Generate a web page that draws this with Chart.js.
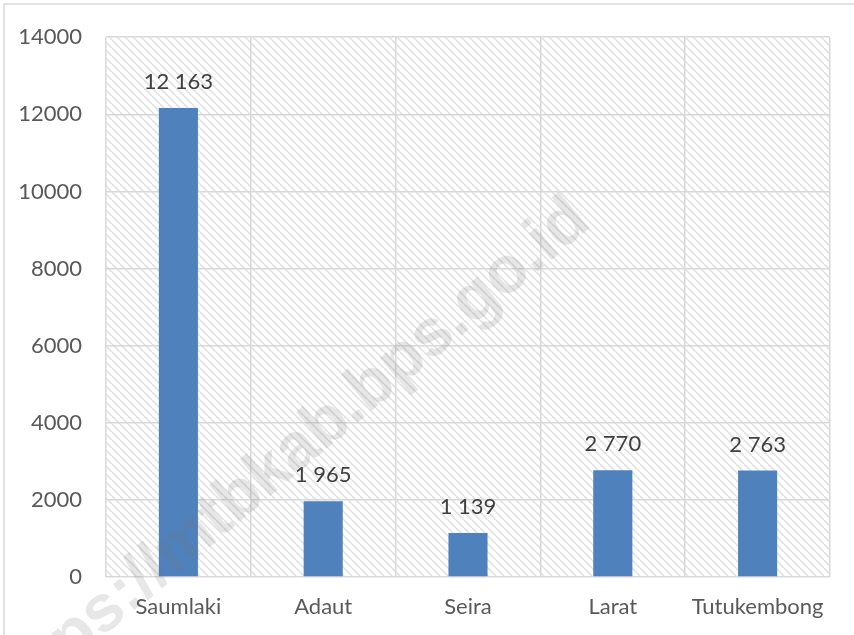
<!DOCTYPE html>
<html>
<head>
<meta charset="utf-8">
<script src="https://cdn.jsdelivr.net/npm/chart.js@4.4.1/dist/chart.umd.min.js"></script>
<style>
  html, body { margin: 0; padding: 0; background: #fff; }
  #wrap { width: 854px; height: 635px; }
</style>
</head>
<body>
<div id="wrap"><canvas id="myChart" width="854" height="635"></canvas></div>
<script>
const categories = ['Saumlaki', 'Adaut', 'Seira', 'Larat', 'Tutukembong'];
const values = [12163, 1965, 1139, 2770, 2763];
const yTicks = [0, 2000, 4000, 6000, 8000, 10000, 12000, 14000];

const gridColor = '#d9d9d9';
const barColor = '#4f81bd';

// wide downward diagonal hatch, like the excel plot fill
function makeHatch(ctx) {
	var c = document.createElement('canvas');
	c.width = 8; c.height = 8;
	var g = c.getContext('2d');
	g.strokeStyle = '#e4e4e4';
	g.lineWidth = 1.9;
	[-8, 0, 8].forEach(function(k) {
		g.beginPath();
		g.moveTo(k, 0);
		g.lineTo(k + 8, 8);
		g.stroke();
	});
	return ctx.createPattern(c, 'repeat');
}

const backdrop = {
	id: 'backdrop',
	beforeDraw(chart) {
		var ctx = chart.ctx, a = chart.chartArea;
		ctx.save();
		ctx.fillStyle = '#fff';
		ctx.fillRect(0, 0, chart.width, chart.height);
		ctx.strokeStyle = '#d9d9d9';
		ctx.lineWidth = 1.5;
		ctx.strokeRect(4, 4, chart.width + 10, chart.height + 10);
		ctx.fillStyle = makeHatch(ctx);
		ctx.fillRect(a.left, a.top, a.right - a.left, a.bottom - a.top);
		ctx.restore();
	}
};

const barLabels = {
	id: 'barLabels',
	afterDatasetsDraw(chart) {
		var ctx = chart.ctx;
		var meta = chart.getDatasetMeta(0);
		ctx.save();
		ctx.font = '22px Lato';
		ctx.fillStyle = '#404040';
		ctx.textAlign = 'center';
		ctx.textBaseline = 'middle';
		meta.data.forEach(function(bar, i) {
			var s = String(values[i]).replace(/\B(?=(\d{3})+(?!\d))/g, ' ');
			ctx.fillText(s, bar.x, bar.y - 26);
		});
		ctx.restore();
	}
};

const watermark = {
	id: 'watermark',
	afterDraw(chart) {
		var ctx = chart.ctx;
		ctx.save();
		ctx.translate(560, 186);
		ctx.rotate(-40 * Math.PI / 180);
		ctx.font = 'bold 66px "Liberation Sans"';
		ctx.fillStyle = 'rgba(120,120,120,0.18)';
		ctx.textAlign = 'right';
		ctx.textBaseline = 'top';
		ctx.fillText('https://mtbkab.bps.go.id', 0, 0);
		ctx.restore();
	}
};

var ctx = document.getElementById('myChart').getContext('2d');
var chart = new Chart(ctx, {
	type: 'bar',
	data: {
		labels: categories,
		datasets: [{
			data: values,
			backgroundColor: barColor,
			borderWidth: 0,
			barPercentage: 0.27,
			categoryPercentage: 1
		}]
	},
	options: {
		responsive: false,
		animation: false,
		layout: { padding: { top: 34, right: 24, left: 0, bottom: 0 } },
		plugins: {
			legend: { display: false },
			tooltip: { enabled: false }
		},
		scales: {
			x: {
				offset: true,
				grid: { color: gridColor, lineWidth: 1.5, offset: true, drawTicks: false },
				border: { display: false },
				ticks: { color: '#595959', font: { family: 'Lato', size: 22 }, padding: 17, maxRotation: 0 },
				afterFit(s) { s.height = 58; }
			},
			y: {
				min: 0,
				max: 14000,
				afterBuildTicks(s) { s.ticks = yTicks.map(v => ({ value: v })); },
				grid: { color: gridColor, lineWidth: 1.5, drawTicks: false },
				border: { display: false },
				ticks: {
					color: '#595959', font: { family: 'Lato', size: 22 }, padding: 24,
					callback: v => String(v)
				},
				afterFit(s) { s.width = 106; }
			}
		}
	},
	plugins: [backdrop, barLabels, watermark]
});
</script>
</body>
</html>
